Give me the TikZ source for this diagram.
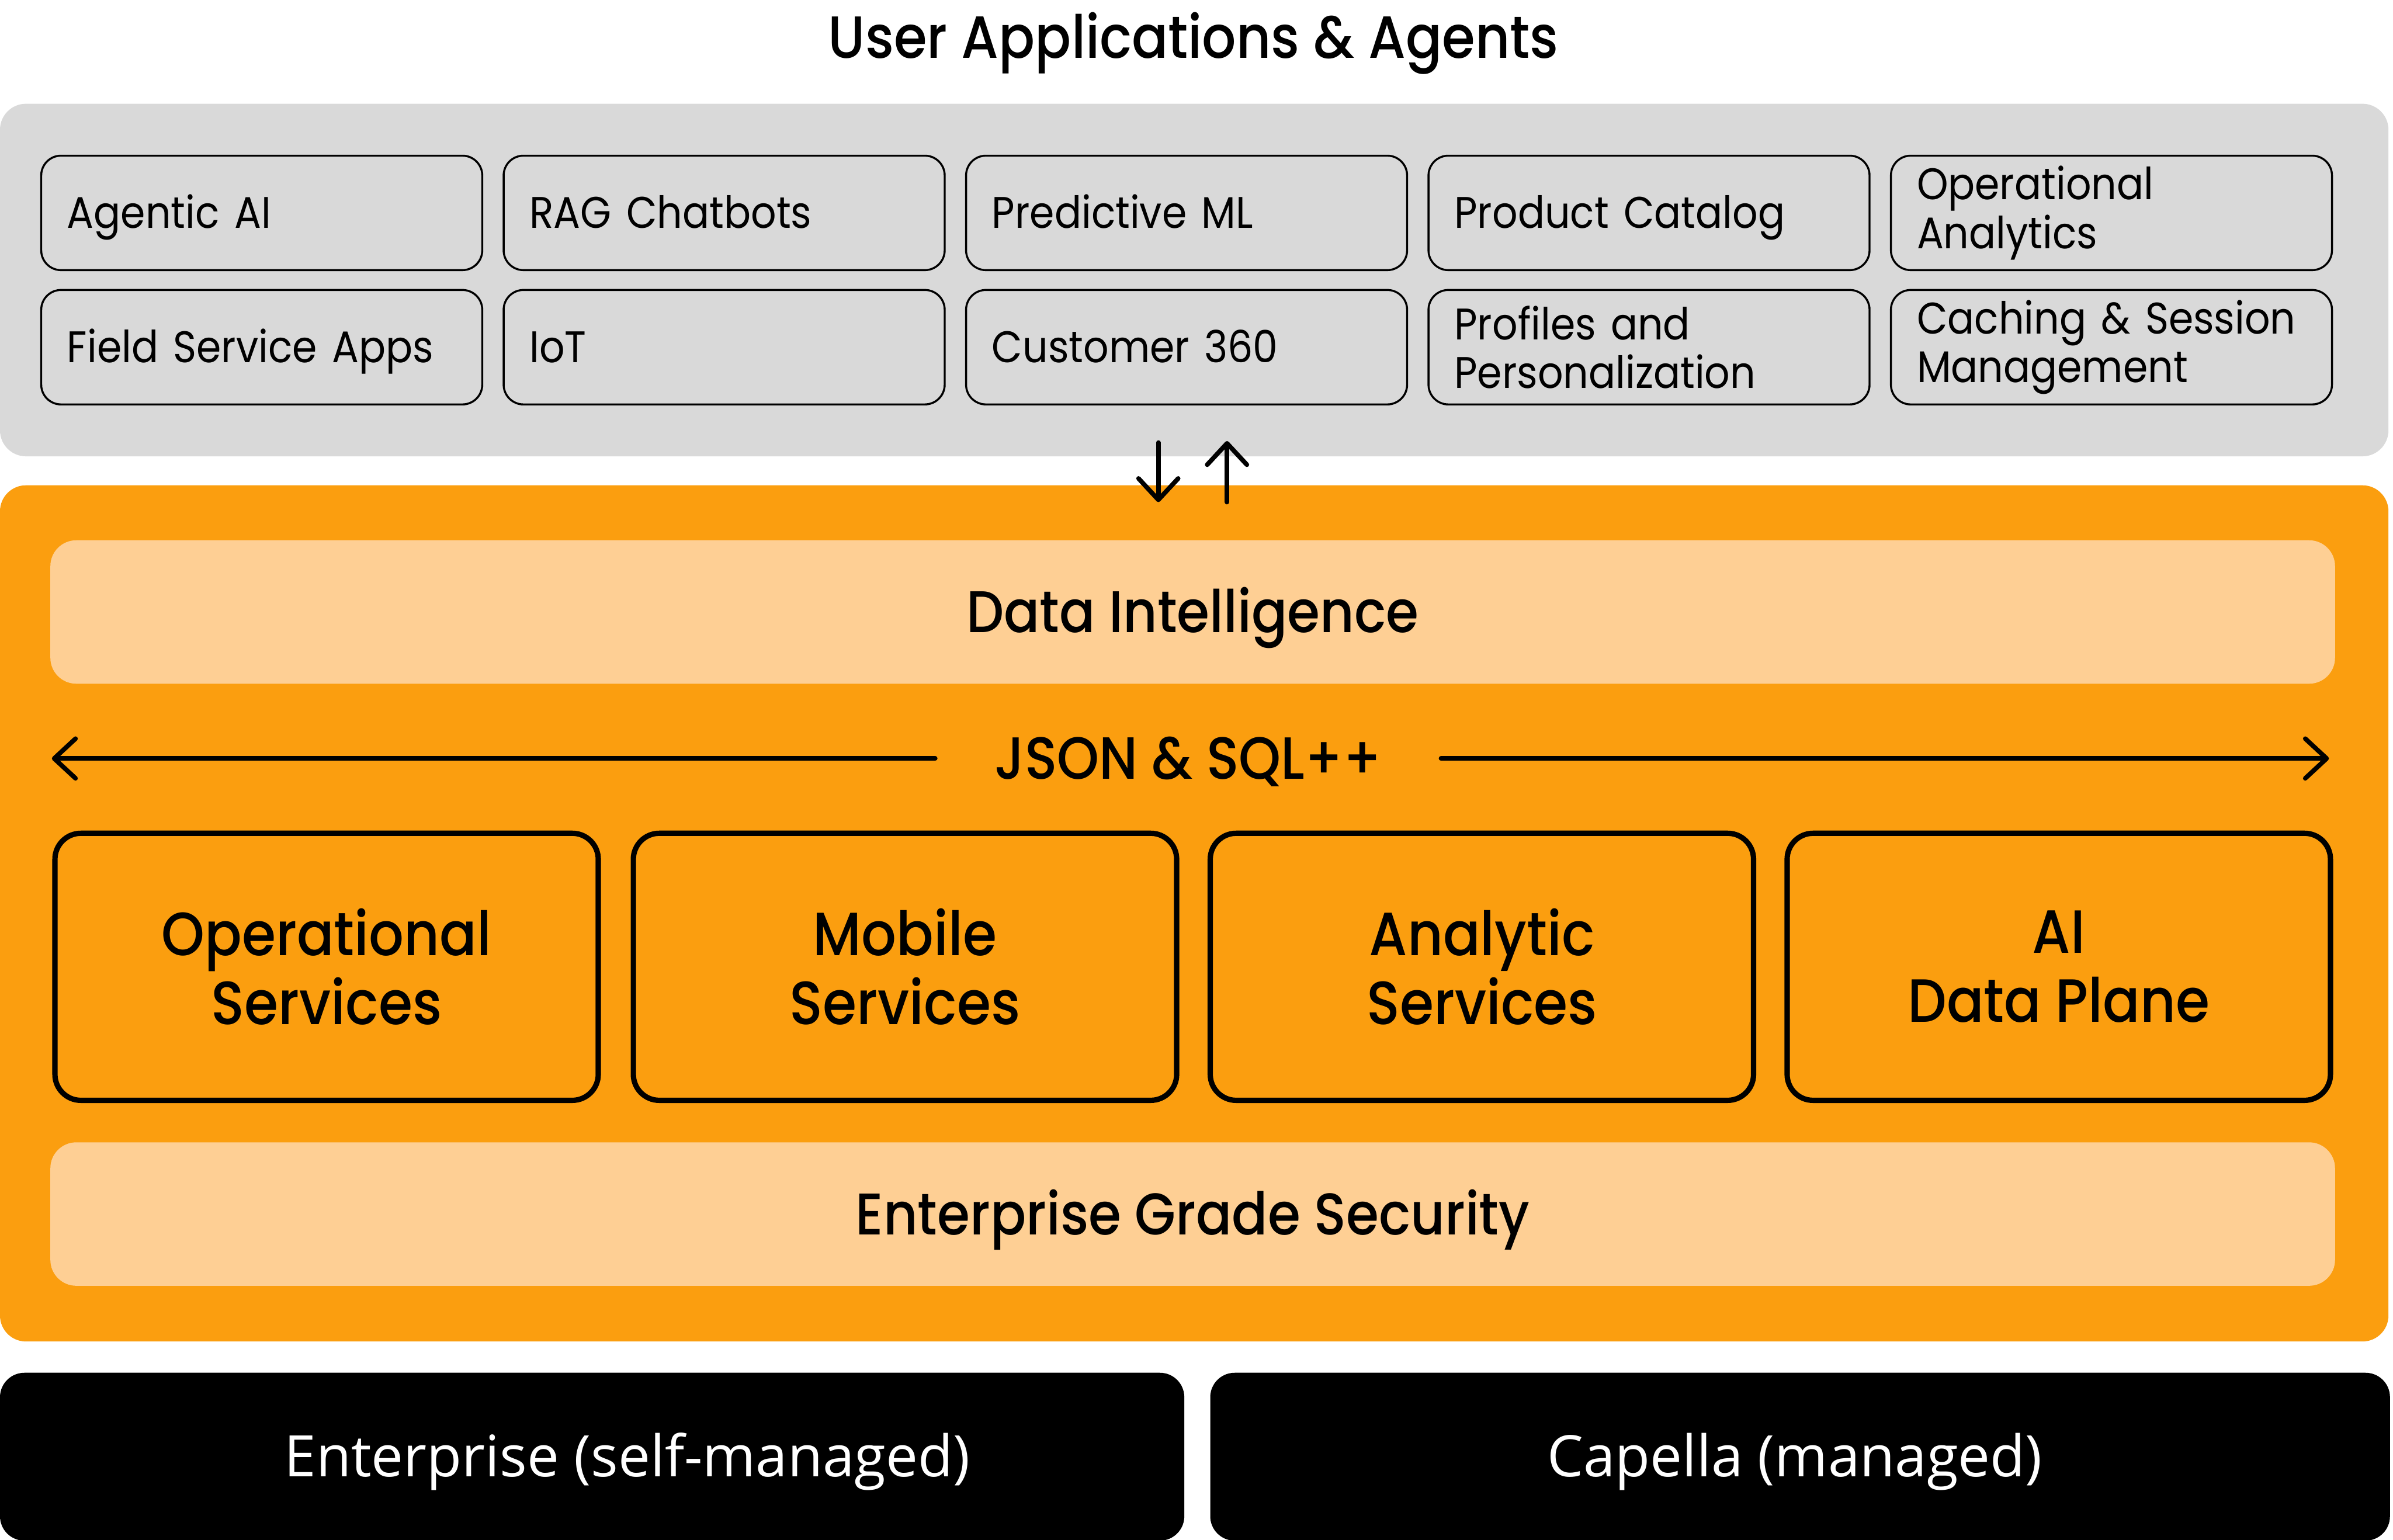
\documentclass[tikz,border=0pt]{standalone}
\usepackage{fontspec}
\setmainfont{Poppins}[FakeStretch=0.9]
\newfontfamily\popmed{Poppins}[UprightFont={* Medium},FakeStretch=0.9]
\newfontfamily\osans{Open Sans}
\usetikzlibrary{arrows.meta}
\definecolor{panelgray}{RGB}{217,217,217}
\definecolor{cborange}{RGB}{251,158,15}
\definecolor{cblight}{RGB}{254,207,148}
\begin{document}
\begin{tikzpicture}[x=1pt,y=-1pt,
  panel/.style={rectangle,rounded corners=17pt,inner sep=0pt},
  appbox/.style={rectangle,draw=black,line width=1.3pt,rounded corners=13pt,fill=panelgray,
    minimum width=289pt,minimum height=75pt,text width=255pt,inner xsep=17pt,inner ysep=0pt,align=left,
    font=\fontsize{29}{32}\selectfont},
  oneline/.style={text height=20.3pt,text depth=0pt},
  bar/.style={rectangle,fill=cblight,rounded corners=17pt,minimum width=1497pt,minimum height=94pt,inner sep=0pt,
    text height=27pt,text depth=0pt,font=\popmed\fontsize{38.5}{44}\selectfont},
  svc/.style={rectangle,draw=black,line width=3.5pt,rounded corners=17pt,fill=cborange,
    minimum width=356pt,minimum height=175pt,inner sep=0pt,align=center,
    font=\popmed\fontsize{40}{45}\selectfont},
  base/.style={rectangle,fill=black,rounded corners=16pt,minimum height=110pt,inner sep=0pt,
    text height=26.4pt,text depth=0pt,text=white,font=\osans\fontsize{37.5}{44}\selectfont},
  arr/.style={line width=3pt,line cap=round,line join=round,
    -{Straight Barb[length=14pt,width=26pt,line cap=round,line join=round]}}
]
\useasboundingbox (0,0) rectangle (1568,1009);
\node[font=\popmed\fontsize{39}{44}\selectfont,text height=27.3pt,text depth=0pt,inner sep=0pt] (title) at (782,24.5) {User Applications \& Agents};
\node[panel,fill=panelgray,minimum width=1565pt,minimum height=231pt] (apps) at (782.5,183.5) {};
\node[panel,fill=cborange,minimum width=1565pt,minimum height=561pt] (core) at (782.5,598.5) {};
% application boxes
\node[appbox,oneline] (a11) at (171.5,139.5) {Agentic AI};
\node[appbox,oneline] (a12) at (474.5,139.5) {RAG Chatbots};
\node[appbox,oneline] (a13) at (777.5,139.5) {Predictive ML};
\node[appbox,oneline] (a14) at (1080.5,139.5) {Product Catalog};
\node[appbox] (a15) at (1383.5,139.5) {Operational\\Analytics};
\node[appbox,oneline] (a21) at (171.5,227.5) {Field Service Apps};
\node[appbox,oneline] (a22) at (474.5,227.5) {IoT};
\node[appbox,oneline] (a23) at (777.5,227.5) {Customer 360};
\node[appbox] (a24) at (1080.5,227.5) {Profiles and\\Personalization};
\node[appbox] (a25) at (1383.5,227.5) {Caching \& Session\\Management};
% vertical arrows
\coordinate (d1) at (759,290);
\coordinate (d2) at (759,329);
\coordinate (u1) at (804,329);
\coordinate (u2) at (804,289);
\draw[arr] (d1) -- (d2);
\draw[arr] (u1) -- (u2);
% bars
\node[bar] (di) at (781.5,401) {Data Intelligence};
\node[minimum width=331pt,inner sep=0pt,text height=27.3pt,text depth=0pt,font=\popmed\fontsize{39}{44}\selectfont] (json) at (778.5,497) {JSON \& SQL++};
\coordinate (jl) at (34,497);
\coordinate (jr) at (1526,497);
\draw[arr] (json.west) -- (jl);
\draw[arr] (json.east) -- (jr);
\node[svc] (s1) at (214,633.5) {Operational\\Services};
\node[svc] (s2) at (593,633.5) {Mobile\\Services};
\node[svc] (s3) at (971,633.5) {Analytic\\Services};
\node[svc] (s4) at (1349,633.5) {AI\\Data Plane};
\node[bar] (sec) at (781.5,795.5) {Enterprise Grade Security};
% deployment
\node[base,minimum width=776pt] (ent) at (388,954.5) {\hspace*{46pt}Enterprise (self-managed)};
\node[base,minimum width=773pt] (cap) at (1179.5,954.5) {Capella (managed)\hspace*{7pt}};
\end{tikzpicture}
\end{document}
